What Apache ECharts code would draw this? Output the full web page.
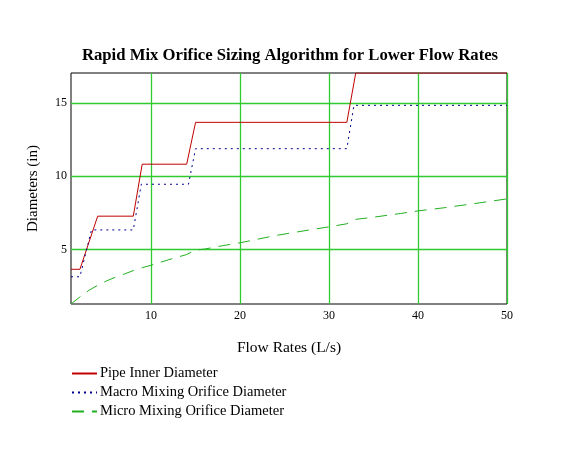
<!DOCTYPE html>
<html>
<head>
<meta charset="utf-8">
<script src="https://cdn.jsdelivr.net/npm/echarts@6/dist/echarts.min.js"></script>
<style>
  html, body { margin: 0; padding: 0; background: #fff; }
  #chart { width: 561px; height: 454px; }
</style>
</head>
<body>
<div id="chart"></div>
<script>
// flow rates (L/s) and diameters (in)
var pipeFlow = [1, 2, 4, 8, 9, 14, 15, 32, 33, 50];
var pipeDiam = [3.64, 3.64, 7.27, 7.27, 10.82, 10.82, 13.68, 13.68, 17.05, 17.05];

var macroFlow = [1, 2, 3.3, 8, 8.9, 14.2, 15, 32, 32.8, 50];
var macroDiam = [3.13, 3.13, 6.33, 6.33, 9.45, 9.45, 11.88, 11.88, 14.84, 14.84];

var microFlow = [1, 2, 3, 4, 5, 6, 7, 8, 9, 10, 12, 14, 15, 16, 18, 20, 22, 24, 26, 28, 30, 32, 33, 35, 38, 40, 43, 46, 50];
var microDiam = [1.27, 1.75, 2.2, 2.55, 2.85, 3.1, 3.32, 3.55, 3.75, 3.92, 4.3, 4.65, 4.95, 5.02, 5.25, 5.45, 5.7, 5.95, 6.15, 6.35, 6.54, 6.75, 7.05, 7.2, 7.45, 7.63, 7.85, 8.1, 8.45];

var xTicks = [10, 20, 30, 40, 50];
var yTicks = [5, 10, 15];

function pairs(xs, ys) {
    return xs.map(function (x, i) { return [x, ys[i]]; });
}

var font = '"Liberation Serif", "Times New Roman", serif';
var gridGreen = '#2fcb2f';

var myChart = echarts.init(document.getElementById('chart'));
var options = {
    animation: false,
    backgroundColor: '#fff',
    textStyle: { fontFamily: font },
    title: {
        text: 'Rapid Mix Orifice Sizing Algorithm for Lower Flow Rates',
        left: 285,
        textAlign: 'center',
        top: 42,
        textStyle: { fontFamily: font, fontSize: 16.7, fontWeight: 'bold', color: '#000' }
    },
    legend: {
        orient: 'vertical',
        left: 66,
        top: 361,
        itemWidth: 25,
        itemHeight: 12,
        itemGap: 4,
        itemStyle: { opacity: 0 },
        textStyle: { fontFamily: font, fontSize: 14.5, color: '#000', padding: [0, 0, 0, -2] },
        data: ['Pipe Inner Diameter', 'Macro Mixing Orifice Diameter', 'Micro Mixing Orifice Diameter']
    },
    grid: {
        left: 71,
        right: 54,
        top: 73,
        bottom: 150,
        show: true,
        borderColor: '#000',
        borderWidth: 1
    },
    xAxis: {
        type: 'value',
        min: 1,
        max: 50,
        name: 'Flow Rates (L/s)',
        nameLocation: 'middle',
        nameGap: 36,
        nameTextStyle: { fontFamily: font, fontSize: 15.5, color: '#000' },
        axisLine: { show: false },
        axisTick: { show: false, customValues: xTicks },
        axisLabel: { customValues: xTicks, fontFamily: font, fontSize: 12, color: '#000', margin: 6 },
        splitLine: { show: true, lineStyle: { color: gridGreen, width: 1.3 } }
    },
    yAxis: {
        type: 'value',
        min: 1.27,
        max: 17.05,
        name: 'Diameters (in)',
        nameLocation: 'middle',
        nameGap: 30,
        nameTextStyle: { fontFamily: font, fontSize: 15, color: '#000' },
        axisLine: { show: false },
        axisTick: { show: false, customValues: yTicks },
        axisLabel: { customValues: yTicks, fontFamily: font, fontSize: 12, color: '#000', margin: 4 },
        splitLine: { show: true, lineStyle: { color: gridGreen, width: 1.3 } }
    },
    series: [
        {
            name: 'Pipe Inner Diameter',
            type: 'line',
            symbol: 'none',
            color: '#c00000',
            lineStyle: { color: '#c00000', width: 1 },
            data: pairs(pipeFlow, pipeDiam)
        },
        {
            name: 'Macro Mixing Orifice Diameter',
            type: 'line',
            symbol: 'none',
            color: '#000090',
            lineStyle: { color: '#000090', width: 1, type: [2, 4] },
            data: pairs(macroFlow, macroDiam)
        },
        {
            name: 'Micro Mixing Orifice Diameter',
            type: 'line',
            symbol: 'none',
            color: '#22b022',
            lineStyle: { color: '#22b022', width: 1, type: [12, 8] },
            data: pairs(microFlow, microDiam)
        }
    ]
};
myChart.setOption(options);
</script>
</body>
</html>
